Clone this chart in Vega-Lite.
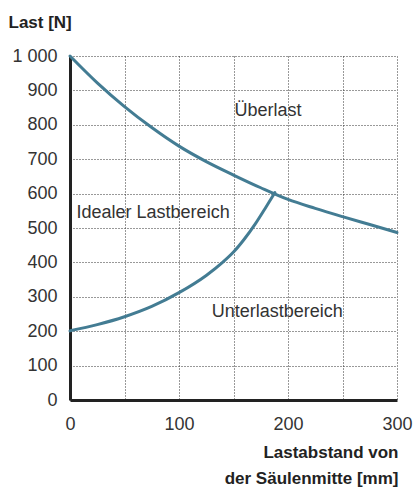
{
  "$schema": "https://vega.github.io/schema/vega-lite/v6.json",
  "autosize": "none",
  "width": 327,
  "height": 344,
  "padding": {"left": 70, "top": 56, "right": 17, "bottom": 89},
  "background": "white",
  "config": {
    "view": {"stroke": null},
    "font": "Liberation Sans"
  },
  "datasets": {
    "curves": [
      {"curve": "upper", "x": 0, "y": 1000},
      {"curve": "upper", "x": 25, "y": 922},
      {"curve": "upper", "x": 50, "y": 853},
      {"curve": "upper", "x": 75, "y": 792},
      {"curve": "upper", "x": 100, "y": 738},
      {"curve": "upper", "x": 125, "y": 693},
      {"curve": "upper", "x": 150, "y": 654},
      {"curve": "upper", "x": 175, "y": 617},
      {"curve": "upper", "x": 200, "y": 583},
      {"curve": "upper", "x": 225, "y": 557},
      {"curve": "upper", "x": 250, "y": 533},
      {"curve": "upper", "x": 275, "y": 510},
      {"curve": "upper", "x": 300, "y": 487},
      {"curve": "lower", "x": 0, "y": 201},
      {"curve": "lower", "x": 25, "y": 219},
      {"curve": "lower", "x": 50, "y": 242},
      {"curve": "lower", "x": 75, "y": 272},
      {"curve": "lower", "x": 100, "y": 312},
      {"curve": "lower", "x": 125, "y": 362},
      {"curve": "lower", "x": 140, "y": 400},
      {"curve": "lower", "x": 150, "y": 430},
      {"curve": "lower", "x": 160, "y": 468},
      {"curve": "lower", "x": 170, "y": 512},
      {"curve": "lower", "x": 180, "y": 562},
      {"curve": "lower", "x": 188, "y": 603}
    ],
    "labels": [
      {"x": 151, "y": 840, "text": "Überlast"},
      {"x": 6, "y": 544, "text": "Idealer Lastbereich"},
      {"x": 130, "y": 256, "text": "Unterlastbereich"}
    ]
  },
  "encoding": {
    "x": {
      "field": "x", "type": "quantitative",
      "scale": {"domain": [0, 300], "nice": false, "zero": false},
      "axis": {
        "values": [0, 50, 100, 150, 200, 250, 300],
        "labelExpr": "datum.value % 100 === 0 ? datum.label : ''",
        "grid": true, "gridColor": "#333", "gridDash": [1, 2], "gridWidth": 1, "gridOpacity": 1,
        "domainColor": "#222", "domainWidth": 3,
        "ticks": false,
        "labelPadding": 15, "labelFontSize": 18, "labelColor": "#333", "labelFont": "Liberation Sans",
        "labelFlush": false, "labelOverlap": false,
        "title": ["Lastabstand von", "der Säulenmitte [mm]"],
        "titleFontSize": 17, "titleFontWeight": "bold", "titleColor": "#222",
        "titleAlign": "right", "titleAnchor": "end", "titleX": 328, "titleY": 44,
        "titleBaseline": "top", "titleLineHeight": 26
      }
    },
    "y": {
      "field": "y", "type": "quantitative",
      "scale": {"domain": [0, 1000], "nice": false},
      "axis": {
        "values": [0, 100, 200, 300, 400, 500, 600, 700, 800, 900, 1000],
        "labelExpr": "datum.value === 1000 ? '1 000' : datum.label",
        "grid": true, "gridColor": "#333", "gridDash": [1, 2], "gridWidth": 1, "gridOpacity": 1,
        "domainColor": "#222", "domainWidth": 3,
        "ticks": false,
        "labelPadding": 13, "labelFontSize": 18, "labelColor": "#333", "labelFont": "Liberation Sans",
        "labelFlush": false, "labelOverlap": false,
        "title": "Last [N]",
        "titleAngle": 0, "titleAlign": "left", "titleBaseline": "middle",
        "titleX": -62, "titleY": -34,
        "titleFontSize": 17, "titleFontWeight": "bold", "titleColor": "#222"
      }
    }
  },
  "layer": [
    {
      "data": {"name": "curves"},
      "mark": {"type": "line", "color": "#437c93", "strokeWidth": 3, "interpolate": "monotone", "strokeCap": "round"},
      "encoding": {
        "detail": {"field": "curve"}
      }
    },
    {
      "data": {"name": "labels"},
      "mark": {"type": "text", "align": "left", "baseline": "middle", "fontSize": 18, "color": "#333", "font": "Liberation Sans"},
      "encoding": {
        "text": {"field": "text"}
      }
    }
  ]
}
